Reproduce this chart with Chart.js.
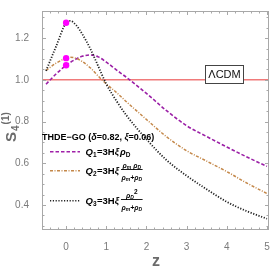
<!DOCTYPE html>
<html>
<head>
<meta charset="utf-8">
<script src="https://cdn.jsdelivr.net/npm/chart.js@4/dist/chart.umd.min.js"></script>
<style>
  html, body { margin: 0; padding: 0; background: #fff; }
  #wrap { width: 273px; height: 273px; }
</style>
</head>
<body>
<div id="wrap"><canvas id="chart" width="273" height="273"></canvas></div>
<script>
// Valores
const zVals = [-0.5, -0.25, 0, 0.1, 0.25, 0.4, 0.6, 0.8, 1, 1.25, 1.5, 2, 2.5, 3, 3.5, 4, 4.5, 5];
const q1Vals = [0.979, 1.028, 1.07, 1.083, 1.10, 1.113, 1.119, 1.11, 1.085, 1.048, 1.012, 0.935, 0.852, 0.78, 0.728, 0.678, 0.63, 0.585];
const q2Vals = [1.045, 1.08, 1.104, 1.108, 1.103, 1.088, 1.058, 1.018, 0.98, 0.94, 0.895, 0.81, 0.727, 0.66, 0.61, 0.56, 0.505, 0.455];
const q3Vals = [1.043, 1.16, 1.274, 1.283, 1.262, 1.22, 1.15, 1.065, 0.98, 0.90, 0.83, 0.715, 0.615, 0.54, 0.475, 0.415, 0.37, 0.334];
const markerZ = 0;
const markerVals = [1.274, 1.104, 1.07];
const lcdmVal = 1.0;
const xTicks = [0, 1, 2, 3, 4, 5];
const yTicks = [0.4, 0.6, 0.8, 1.0, 1.2];
const xRange = [-0.6, 5.05];
const yRange = [0.28, 1.33];

const FONT = '"Liberation Sans", Arial, sans-serif';
const colQ1 = '#9b1fa6';
const colQ2 = '#c4884a';
const colQ3 = '#222222';

const toXY = vals => zVals.map((z, i) => ({ x: z, y: vals[i] }));

// dibuja trozos de texto seguidos, cada uno con su fuente y desplazamiento
function drawRuns(ctx, x, y, runs) {
    runs.forEach(r => {
        ctx.font = r.font;
        ctx.fillText(r.t, x, y + (r.dy || 0));
        x += ctx.measureText(r.t).width + (r.gap || 0);
    });
    return x;
}
function runsWidth(ctx, runs) {
    let w = 0;
    runs.forEach(r => { ctx.font = r.font; w += ctx.measureText(r.t).width + (r.gap || 0); });
    return w;
}

const extras = {
    id: 'extras',
    afterDatasetsDraw(chart) {
        const ctx = chart.ctx;
        const a = chart.chartArea;
        const xs = chart.scales.x, ys = chart.scales.y;
        ctx.save();

        // marco con marcas hacia dentro
        ctx.strokeStyle = '#a8a8a8';
        ctx.lineWidth = 1;
        ctx.strokeRect(a.left + 0.5, a.top + 0.5, a.right - a.left - 1, a.bottom - a.top - 1);
        ctx.beginPath();
        for (let v = -0.6; v <= 5.05; v += 0.2) {
            const vv = Math.round(v * 10) / 10;
            const px = Math.round(xs.getPixelForValue(vv)) + 0.5;
            const len = Number.isInteger(vv) ? 4 : 2.5;
            ctx.moveTo(px, a.bottom); ctx.lineTo(px, a.bottom - len);
            ctx.moveTo(px, a.top); ctx.lineTo(px, a.top + len);
        }
        for (let v = 0.3; v <= 1.33; v += 0.05) {
            const vv = Math.round(v * 100) / 100;
            const py = Math.round(ys.getPixelForValue(vv)) + 0.5;
            const major = Math.abs(vv * 5 - Math.round(vv * 5)) < 1e-6;
            const len = major ? 4 : 2.5;
            ctx.moveTo(a.left, py); ctx.lineTo(a.left + len, py);
            ctx.moveTo(a.right, py); ctx.lineTo(a.right - len, py);
        }
        ctx.stroke();

        // etiqueta ΛCDM
        ctx.fillStyle = '#fff';
        ctx.fillRect(205, 65, 38, 18);
        ctx.strokeStyle = '#444';
        ctx.strokeRect(205.5, 65.5, 38, 18);
        ctx.fillStyle = '#111';
        ctx.font = '11px ' + FONT;
        ctx.textAlign = 'center';
        ctx.textBaseline = 'middle';
        ctx.fillText('ΛCDM', 224.5, 75);

        // leyenda
        ctx.textAlign = 'left';
        ctx.textBaseline = 'alphabetic';
        ctx.fillStyle = '#000';
        const b = 'bold 9px ' + FONT, bi = 'italic bold 9px ' + FONT;
        drawRuns(ctx, 42, 140, [
            { t: 'THDE\u2212GO (', font: b }, { t: 'δ', font: bi }, { t: '=0.82, ', font: b },
            { t: 'ξ', font: bi }, { t: '=0.06)', font: b }
        ]);

        const entryY = [151.7, 170.7, 200.7];
        const styles = [
            { c: '#a020a8', dash: [3.5, 2] },
            { c: colQ2, dash: [3, 1.5, 1, 1.5] },
            { c: colQ3, dash: [1.2, 1.6] }
        ];
        styles.forEach((s, i) => {
            ctx.strokeStyle = s.c;
            ctx.lineWidth = 1.4;
            ctx.setLineDash(s.dash);
            ctx.beginPath();
            ctx.moveTo(50, entryY[i]); ctx.lineTo(80, entryY[i]);
            ctx.stroke();
        });
        ctx.setLineDash([]);

        const F = 'bold 9.5px ' + FONT, FI = 'italic bold 9.5px ' + FONT, FS = 'bold 6.5px ' + FONT;
        const fi = 'italic bold 7px ' + FONT, fs = 'italic bold 5px ' + FONT;
        const head = n => [
            { t: 'Q', font: FI }, { t: String(n), font: FS, dy: 2, gap: 0.5 },
            { t: '=3H', font: F }, { t: 'ξ', font: FI, gap: 1 }
        ];
        let x;
        // Q1
        x = drawRuns(ctx, 85.5, entryY[0] + 3.5, head(1));
        drawRuns(ctx, x, entryY[0] + 3.5, [{ t: 'ρ', font: FI }, { t: 'D', font: FS, dy: 2 }]);
        // Q2 y Q3 con fracción
        const fraction = (x0, yc, num) => {
            const den = [{ t: 'ρ', font: fi }, { t: 'm', font: fs, dy: 1.5 }, { t: '+', font: fi },
                         { t: 'ρ', font: fi }, { t: 'D', font: fs, dy: 1.5 }];
            const wn = runsWidth(ctx, num), wd = runsWidth(ctx, den);
            const w = Math.max(wn, wd) + 1;
            drawRuns(ctx, x0 + (w - wn) / 2, yc - 3.2, num);
            drawRuns(ctx, x0 + (w - wd) / 2, yc + 9, den);
            ctx.fillRect(x0, yc - 1.6, w, 0.9);
        };
        x = drawRuns(ctx, 85.5, entryY[1] + 3.5, head(2));
        fraction(x + 1, entryY[1], [{ t: 'ρ', font: fi }, { t: 'm', font: fs, dy: 1.5, gap: 2 },
                                    { t: 'ρ', font: fi }, { t: 'D', font: fs, dy: 1.5 }]);
        x = drawRuns(ctx, 85.5, entryY[2] + 3.5, head(3));
        fraction(x + 1, entryY[2], [{ t: 'ρ', font: fi }, { t: 'D', font: fs, dy: 1.5 },
                                    { t: '2', font: 'bold 6.5px ' + FONT, dy: -4 }]);
        ctx.restore();
    },
    afterDraw(chart) {
        const ctx = chart.ctx;
        ctx.save();
        ctx.fillStyle = '#6b6b6b';
        ctx.textBaseline = 'alphabetic';
        ctx.textAlign = 'left';
        // título eje y: S4(1)
        ctx.translate(16, 142);
        ctx.rotate(-Math.PI / 2);
        drawRuns(ctx, 0, 0, [
            { t: 'S', font: 'bold 15px ' + FONT, gap: 1 },
            { t: '4', font: 'bold 10px ' + FONT, dy: 3, gap: 1 },
            { t: '(1)', font: 'bold 10px ' + FONT, dy: -7 }
        ]);
        ctx.restore();
        ctx.save();
        // título eje x
        ctx.fillStyle = '#6b6b6b';
        ctx.font = 'bold 16px ' + FONT;
        ctx.textAlign = 'center';
        ctx.textBaseline = 'middle';
        ctx.fillText('z', 156, 262);
        ctx.restore();
    }
};

const ctx = document.getElementById('chart').getContext('2d');
const chart = new Chart(ctx, {
    type: 'line',
    data: {
        datasets: [
            {
                label: 'puntos',
                data: markerVals.map(v => ({ x: markerZ, y: v })),
                showLine: false,
                pointRadius: 3.2,
                pointBackgroundColor: '#ff00ff',
                pointBorderWidth: 0
            },
            {
                label: 'Q3',
                data: toXY(q3Vals),
                borderColor: colQ3,
                borderWidth: 1.8,
                borderDash: [1.2, 1.6],
                pointRadius: 0,
                cubicInterpolationMode: 'monotone'
            },
            {
                label: 'Q2',
                data: toXY(q2Vals),
                borderColor: colQ2,
                borderWidth: 1.5,
                borderDash: [3, 1.5, 1, 1.5],
                pointRadius: 0,
                cubicInterpolationMode: 'monotone'
            },
            {
                label: 'Q1',
                data: toXY(q1Vals),
                borderColor: colQ1,
                borderWidth: 1.6,
                borderDash: [3.5, 2],
                pointRadius: 0,
                cubicInterpolationMode: 'monotone'
            },
            {
                label: 'LCDM',
                data: [{ x: xRange[0], y: lcdmVal }, { x: xRange[1], y: lcdmVal }],
                borderColor: '#f07a7a',
                borderWidth: 1.5,
                pointRadius: 0
            }
        ]
    },
    options: {
        responsive: false,
        animation: false,
        devicePixelRatio: 1,
        layout: { padding: { top: 1, right: 4, left: 0, bottom: 0 } },
        plugins: { legend: { display: false }, tooltip: { enabled: false } },
        scales: {
            x: {
                type: 'linear',
                min: xRange[0],
                max: xRange[1],
                grid: { display: false },
                border: { display: false },
                afterBuildTicks: s => { s.ticks = xTicks.map(v => ({ value: v })); },
                afterFit: s => { s.height = 43; },
                ticks: {
                    color: '#7a7a7a',
                    font: { family: FONT, size: 10 },
                    padding: 3,
                    maxRotation: 0,
                    callback: v => String(v)
                }
            },
            y: {
                type: 'linear',
                min: yRange[0],
                max: yRange[1],
                grid: { display: false },
                border: { display: false },
                afterBuildTicks: s => { s.ticks = yTicks.map(v => ({ value: v })); },
                afterFit: s => { s.width = 42; },
                ticks: {
                    color: '#7a7a7a',
                    font: { family: FONT, size: 10 },
                    padding: 5,
                    callback: v => v.toFixed(1)
                }
            }
        }
    },
    plugins: [extras]
});
</script>
</body>
</html>
